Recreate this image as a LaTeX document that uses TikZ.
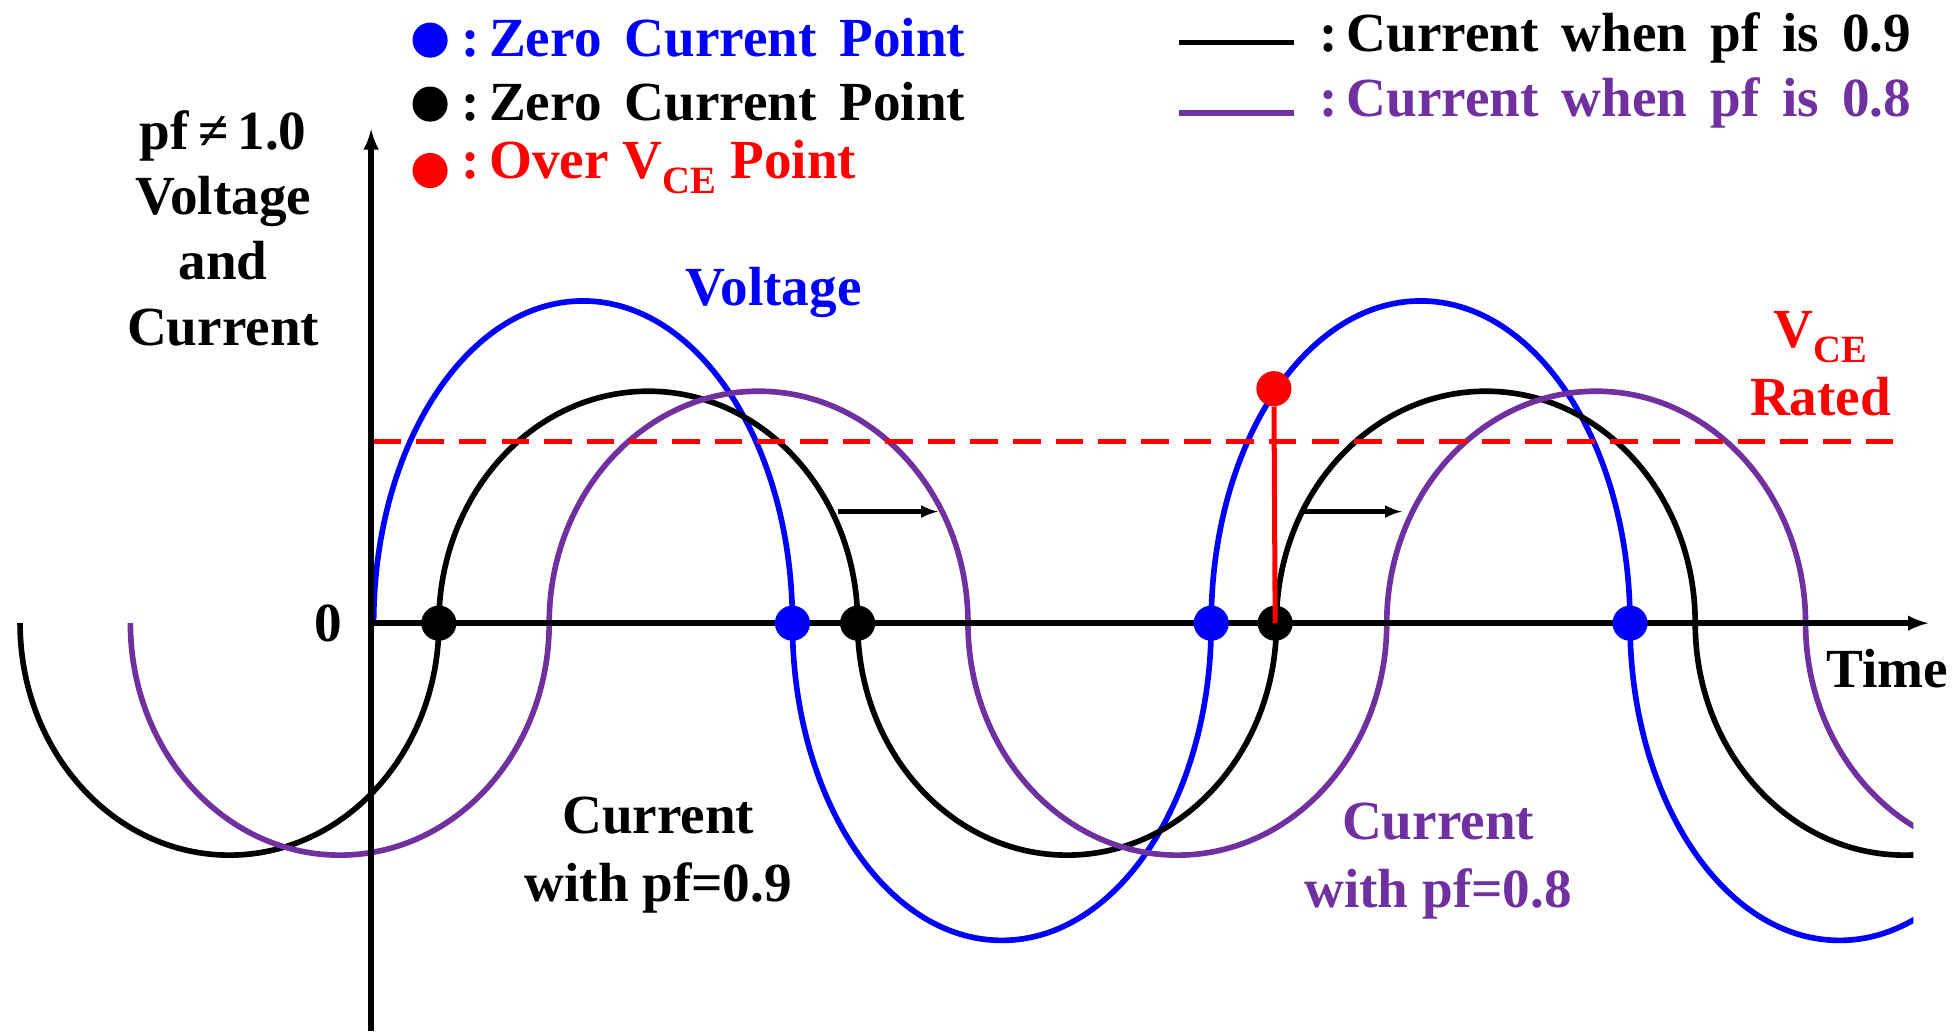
\documentclass[tikz,border=0pt]{standalone}
\usepackage{fontspec}
\setmainfont{Liberation Serif}
\begin{document}
\begin{tikzpicture}[x=1pt,y=-1pt,
  lbl/.style={font=\bfseries\fontsize{44}{48}\selectfont,inner sep=0pt},
  wave/.style={line width=4.5pt},
  dotp/.style={circle,inner sep=0pt,minimum size=28pt},
  ax/.style={line width=4.5pt,-latex}]
\definecolor{pur}{HTML}{7030A0}
\useasboundingbox (0,0) rectangle (1560,825);
\begin{scope}
\clip (0,0) rectangle (1526,825);
\draw[wave,blue] (298,497) arc[start angle=180,end angle=360,x radius=167,y radius=257]
  arc[start angle=180,end angle=0,x radius=167,y radius=253]
  arc[start angle=180,end angle=360,x radius=167,y radius=257]
  arc[start angle=180,end angle=0,x radius=167,y radius=253];
\draw[wave,black] (16,497) arc[start angle=180,end angle=0,x radius=167,y radius=185]
  arc[start angle=180,end angle=360,x radius=167,y radius=185]
  arc[start angle=180,end angle=0,x radius=167,y radius=185]
  arc[start angle=180,end angle=360,x radius=167,y radius=185]
  arc[start angle=180,end angle=0,x radius=167,y radius=185];
\draw[wave,pur] (104,497) arc[start angle=180,end angle=0,x radius=167,y radius=185]
  arc[start angle=180,end angle=360,x radius=167,y radius=185]
  arc[start angle=180,end angle=0,x radius=167,y radius=185]
  arc[start angle=180,end angle=360,x radius=167,y radius=185]
  arc[start angle=180,end angle=0,x radius=167,y radius=185];
\end{scope}
\coordinate (o) at (296,497);
\coordinate (ytop) at (296,103);
\coordinate (ybot) at (296,822);
\coordinate (xend) at (1538,497);
\draw[ax] (ybot) -- (ytop);
\draw[ax] (o) -- (xend);
\coordinate (r1) at (298,352); \coordinate (r2) at (1520,352);
\draw[red,line width=4pt,dash pattern=on 22pt off 12pt] (r1) -- (r2);
\coordinate (a1) at (668,408); \coordinate (a2) at (748,408);
\coordinate (b1) at (1040,408); \coordinate (b2) at (1118,408);
\draw[line width=3.5pt,-latex] (a1) -- (a2);
\draw[line width=3.5pt,-latex] (b1) -- (b2);
\node[dotp,fill=blue] (z1) at (632,497) {};
\node[dotp,fill=blue] (z2) at (966,497) {};
\node[dotp,fill=blue] (z3) at (1300,497) {};
\node[dotp,fill=black] (k1) at (350,497) {};
\node[dotp,fill=black] (k2) at (684,497) {};
\node[dotp,fill=black] (k3) at (1017,497) {};
\node[dotp,fill=red] (ov) at (1016,310) {};
\draw[red,line width=4pt] (k3.center) -- (ov);
\node[dotp,fill=blue] (l1) at (343,32) {};
\node[dotp,fill=black] (l2) at (343,83) {};
\node[dotp,fill=red] (l3) at (343,136) {};
\node[lbl,blue,anchor=west] (t1) at (368,30) {:\,Zero\, Current\, Point};
\node[lbl,anchor=west] (t2) at (368,81) {:\,Zero\, Current\, Point};
\node[lbl,red,anchor=west] (t3) at (368,133) {:\,Over V\textsubscript{CE} Point};
\coordinate (m1) at (940,34); \coordinate (m2) at (1032,34);
\coordinate (n1) at (940,90); \coordinate (n2) at (1032,90);
\draw[line width=4.5pt] (m1) -- (m2);
\draw[line width=4.5pt,pur] (n1) -- (n2);
\node[lbl,anchor=west] (t4) at (1052,30) {:\,Current\, when\, pf\, is\, 0.9};
\node[lbl,pur,anchor=west] (t5) at (1052,82) {:\,Current\, when\, pf\, is\, 0.8};
\node[lbl,align=center] (yl) at (178,182) {pf\,≠\,1.0\\[4pt]Voltage\\[4pt]and\\[4pt]Current};
\node[lbl,blue] (vl) at (617,233) {Voltage};
\node[lbl,red,align=center] (vce) at (1452,290) {V\textsubscript{CE}\\[6pt]Rated};
\node[lbl] (zero) at (262,497) {0};
\node[lbl] (time) at (1505,533) {Time};
\node[lbl,align=center] (c9) at (525,682) {Current\\[6pt]with pf=0.9};
\node[lbl,pur,align=center] (c8) at (1147,687) {Current\\[6pt]with pf=0.8};
\end{tikzpicture}
\end{document}
